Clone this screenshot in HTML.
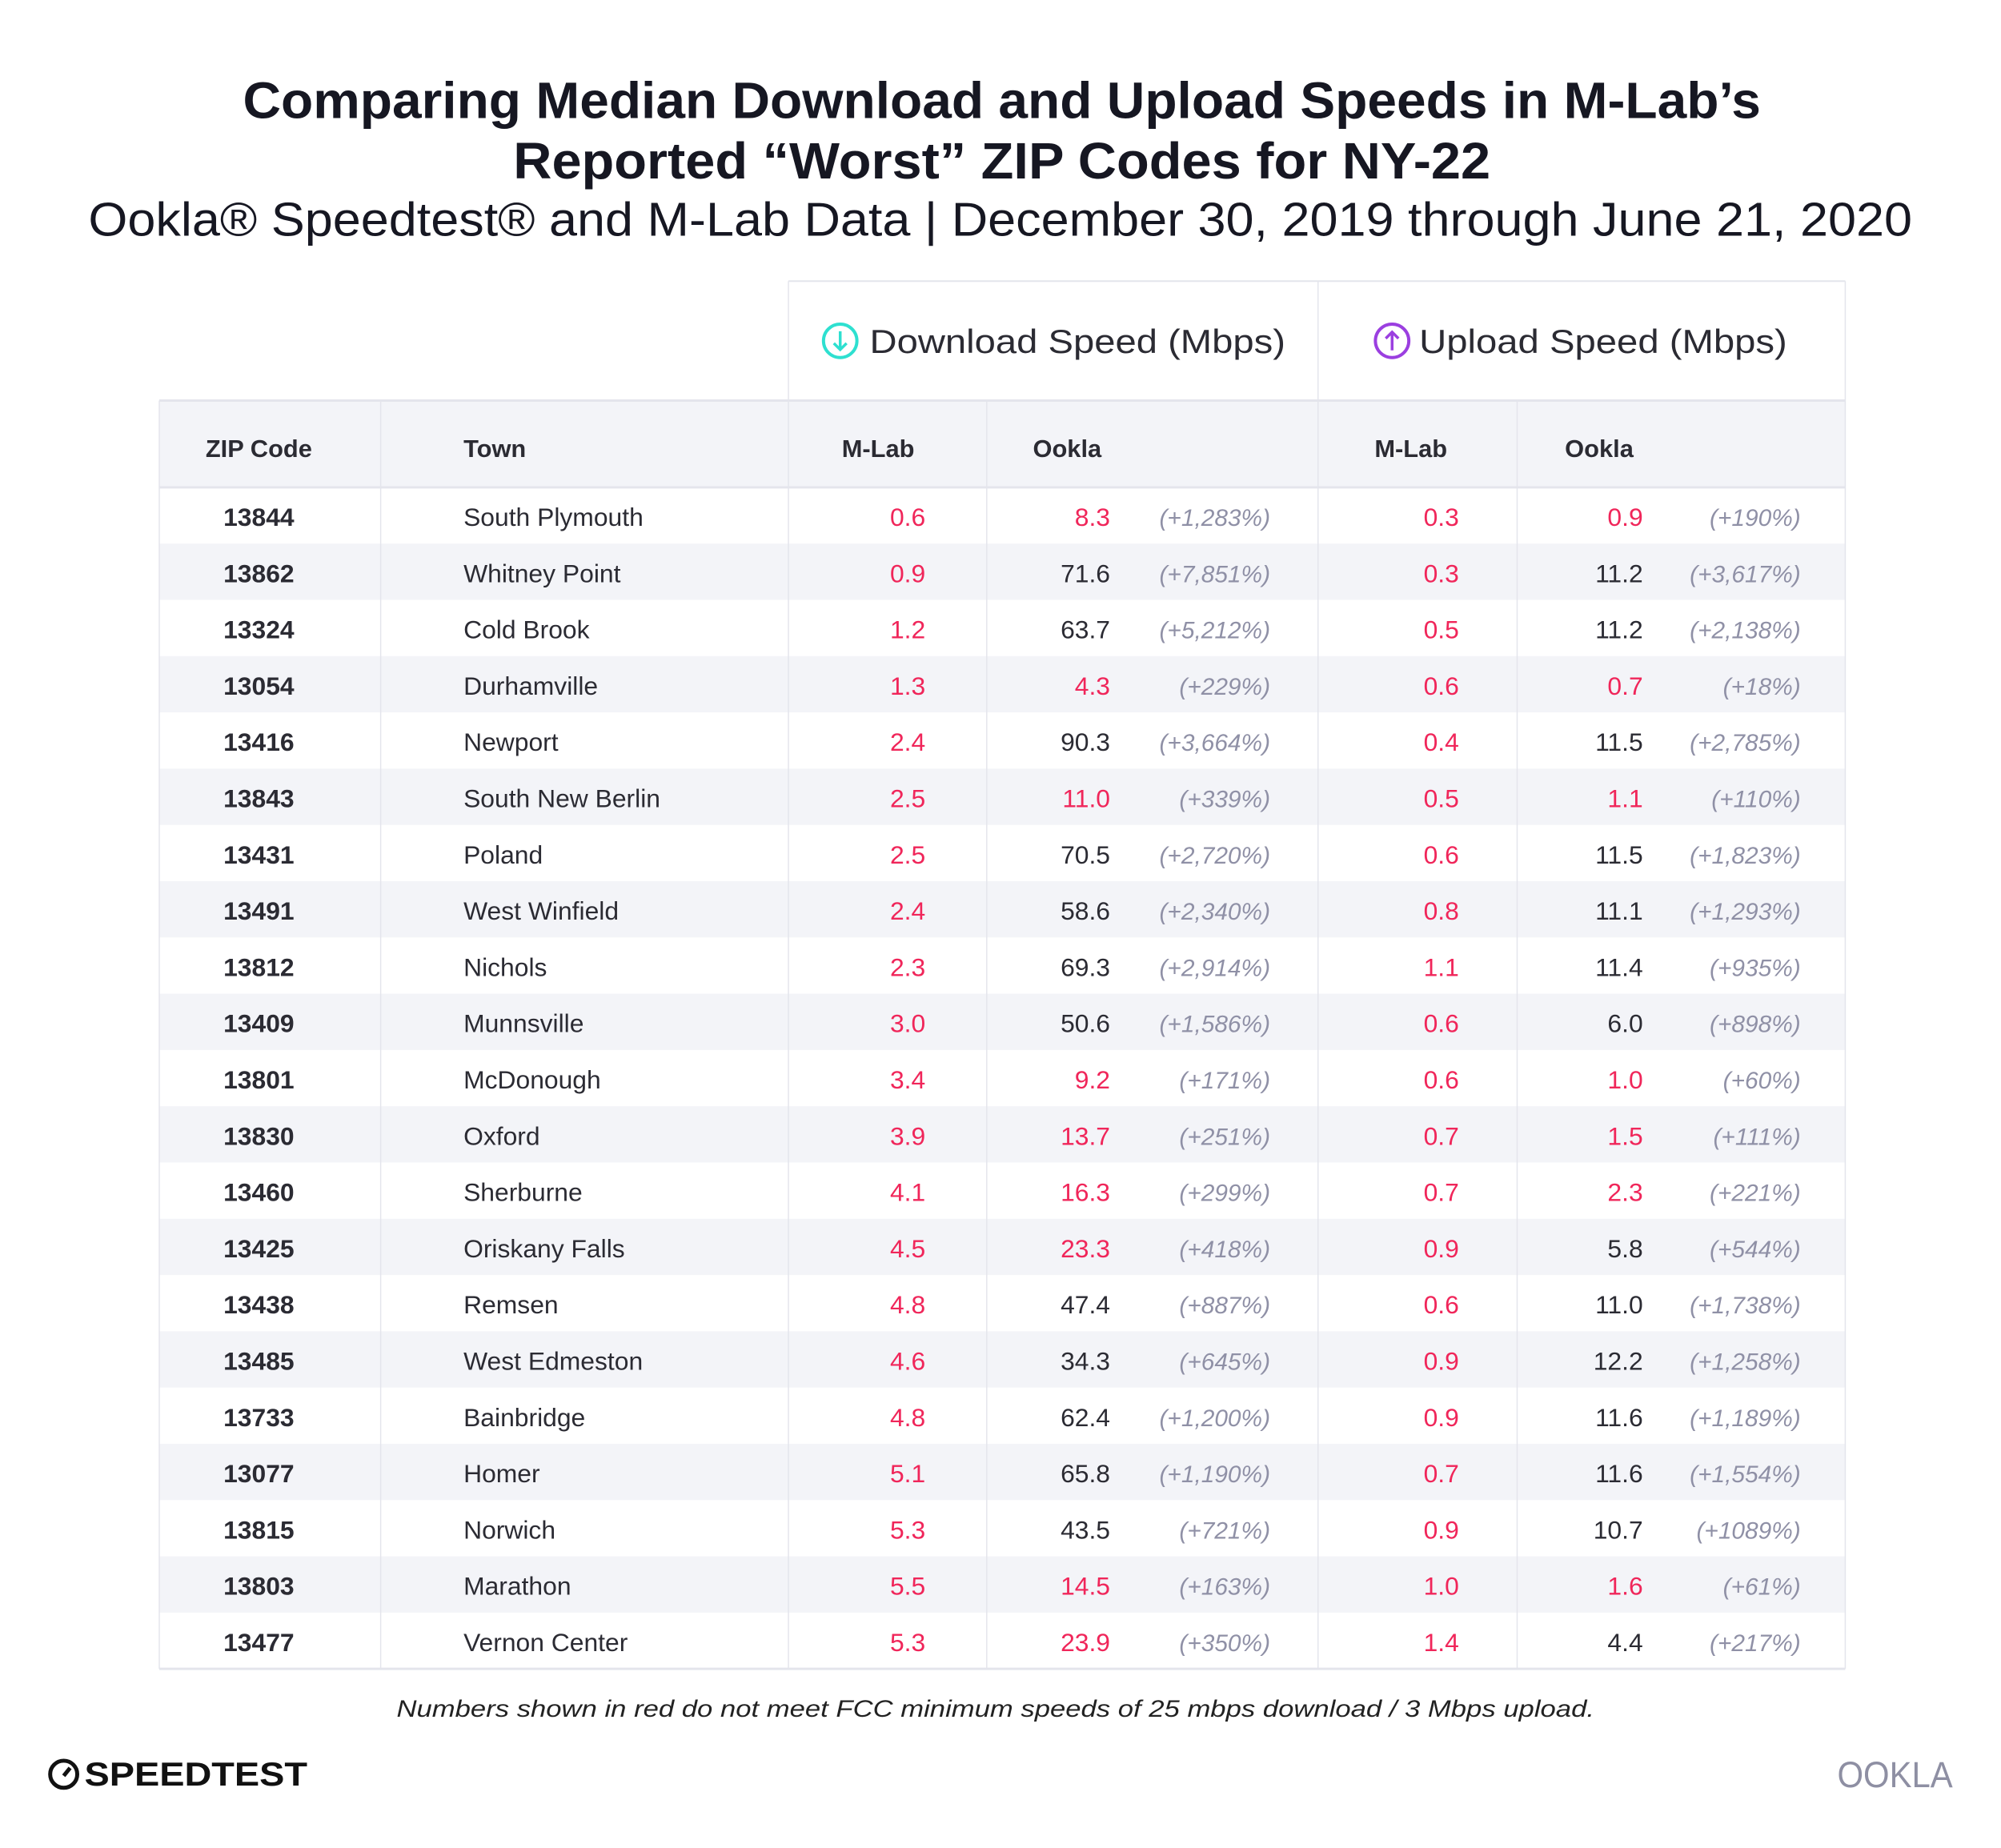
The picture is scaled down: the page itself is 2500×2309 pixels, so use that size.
<!DOCTYPE html>
<html><head><meta charset="utf-8"><style>
html,body{margin:0;padding:0;background:#fff}
svg{display:block;font-family:"Liberation Sans",sans-serif}
</style></head><body>
<svg id="chart" width="2500" height="2309" viewBox="0 0 2500 2309" xmlns="http://www.w3.org/2000/svg">
<rect width="2500" height="2309" fill="#fff"/>
<g transform="scale(0.995)">
<text x="1258" y="148" text-anchor="middle" font-size="64" font-weight="bold" fill="#161722" textLength="1906" lengthAdjust="spacingAndGlyphs">Comparing Median Download and Upload Speeds in M-Lab’s</text>
<text x="1258" y="224" text-anchor="middle" font-size="64" font-weight="bold" fill="#161722" textLength="1227" lengthAdjust="spacingAndGlyphs">Reported “Worst” ZIP Codes for NY-22</text>
<text x="1256" y="296" text-anchor="middle" font-size="60" fill="#161722" textLength="2290" lengthAdjust="spacingAndGlyphs">Ookla® Speedtest® and M-Lab Data | December 30, 2019 through June 21, 2020</text>
<g id="table"></g>
<text x="1250" y="2156" text-anchor="middle" font-size="30" font-style="italic" fill="#222" textLength="1504" lengthAdjust="spacingAndGlyphs">Numbers shown in red do not meet FCC minimum speeds of 25 mbps download / 3 Mbps upload.</text>
<g>
<circle cx="80" cy="2228" r="17" fill="none" stroke="#111" stroke-width="5"/>
<line x1="80" y1="2230" x2="88" y2="2220" stroke="#111" stroke-width="5"/>
<text x="106" y="2242" font-size="42" font-weight="bold" fill="#111" textLength="280" lengthAdjust="spacingAndGlyphs">SPEEDTEST</text>
</g>
<text x="2452" y="2244" text-anchor="end" font-size="46" fill="#8e8fa3" textLength="145" lengthAdjust="spacingAndGlyphs">OOKLA</text>
</g>
</svg>
<script>
const zips=["13844","13862","13324","13054","13416","13843","13431","13491","13812","13409","13801","13830","13460","13425","13438","13485","13733","13077","13815","13803","13477"];
const towns=["South Plymouth","Whitney Point","Cold Brook","Durhamville","Newport","South New Berlin","Poland","West Winfield","Nichols","Munnsville","McDonough","Oxford","Sherburne","Oriskany Falls","Remsen","West Edmeston","Bainbridge","Homer","Norwich","Marathon","Vernon Center"];
const dlMlab=[0.6,0.9,1.2,1.3,2.4,2.5,2.5,2.4,2.3,3.0,3.4,3.9,4.1,4.5,4.8,4.6,4.8,5.1,5.3,5.5,5.3];
const dlOokla=[8.3,71.6,63.7,4.3,90.3,11.0,70.5,58.6,69.3,50.6,9.2,13.7,16.3,23.3,47.4,34.3,62.4,65.8,43.5,14.5,23.9];
const dlPct=["+1,283%","+7,851%","+5,212%","+229%","+3,664%","+339%","+2,720%","+2,340%","+2,914%","+1,586%","+171%","+251%","+299%","+418%","+887%","+645%","+1,200%","+1,190%","+721%","+163%","+350%"];
const ulMlab=[0.3,0.3,0.5,0.6,0.4,0.5,0.6,0.8,1.1,0.6,0.6,0.7,0.7,0.9,0.6,0.9,0.9,0.7,0.9,1.0,1.4];
const ulOokla=[0.9,11.2,11.2,0.7,11.5,1.1,11.5,11.1,11.4,6.0,1.0,1.5,2.3,5.8,11.0,12.2,11.6,11.6,10.7,1.6,4.4];
const ulPct=["+190%","+3,617%","+2,138%","+18%","+2,785%","+110%","+1,823%","+1,293%","+935%","+898%","+60%","+111%","+221%","+544%","+1,738%","+1,258%","+1,189%","+1,554%","+1089%","+61%","+217%"];
const dlThreshold=25, ulThreshold=3;

const NS="http://www.w3.org/2000/svg";
const g=document.getElementById('table');
const RED="#f0265a", DARK="#2b2b33", GREY="#8f90a6", STRIPE="#f3f4f8", LINE="#e4e5ec";
const L=200,R=2317, cols=[478,990,1239,1655,1905];
const headTop=353, hdrTop=503, hdrBot=612, rowH=70.65;
function el(tag,attrs,parent){const e=document.createElementNS(NS,tag);for(const k in attrs)e.setAttribute(k,attrs[k]);(parent||g).appendChild(e);return e;}
function txt(x,y,s,opt,name){const e=el('text',Object.assign({x:x,y:y,'font-size':32,fill:DARK},opt));e.textContent=s;


return e;}
const n=zips.length, bot=hdrBot+n*rowH;
const hb=el('rect',{x:L,y:hdrTop,width:R-L,height:hdrBot-hdrTop,fill:STRIPE});


for(let i=0;i<n;i++){ if(i%2===1){const r=el('rect',{x:L,y:hdrBot+i*rowH,width:R-L,height:rowH,fill:STRIPE});

}}
el('line',{x1:990,y1:headTop,x2:R,y2:headTop,stroke:LINE,'stroke-width':2});
el('line',{x1:990,y1:headTop,x2:990,y2:hdrTop,stroke:LINE,'stroke-width':1.5});
el('line',{x1:1655,y1:headTop,x2:1655,y2:hdrTop,stroke:LINE,'stroke-width':1.5});
el('line',{x1:R,y1:headTop,x2:R,y2:bot,stroke:LINE,'stroke-width':1.5});
el('line',{x1:L,y1:hdrTop,x2:L,y2:bot,stroke:LINE,'stroke-width':1.5});
el('line',{x1:L,y1:hdrTop,x2:R,y2:hdrTop,stroke:LINE,'stroke-width':3});
el('line',{x1:L,y1:hdrBot,x2:R,y2:hdrBot,stroke:LINE,'stroke-width':3});
el('line',{x1:L,y1:bot,x2:R,y2:bot,stroke:LINE,'stroke-width':3});
cols.forEach(c=>el('line',{x1:c,y1:hdrTop,x2:c,y2:bot,stroke:LINE,'stroke-width':1.5}));
const di=el('g',{});


el('circle',{cx:1055,cy:428,r:21,fill:'none',stroke:'#2ee0d0','stroke-width':4},di);
el('path',{d:'M1055 416 V439 M1047 431 L1055 439 L1063 431',fill:'none',stroke:'#2ee0d0','stroke-width':3.5},di);
txt(1092,443,'Download Speed (Mbps)',{'font-size':42,fill:'#2b2b33',textLength:522,lengthAdjust:'spacingAndGlyphs'},'download-group-header');
const ui=el('g',{});


el('circle',{cx:1748,cy:428,r:21,fill:'none',stroke:'#9b3fe0','stroke-width':4},ui);
el('path',{d:'M1748 440 V417 M1740 425 L1748 417 L1756 425',fill:'none',stroke:'#9b3fe0','stroke-width':3.5},ui);
txt(1782,443,'Upload Speed (Mbps)',{'font-size':42,fill:'#2b2b33',textLength:462,lengthAdjust:'spacingAndGlyphs'},'upload-group-header');
const hy=574, hopt={'font-weight':'bold','font-size':31};
txt(325,hy,'ZIP Code',Object.assign({'text-anchor':'middle'},hopt),'zip-code-header');
txt(582,hy,'Town',hopt,'town-header');
txt(1057,hy,'M-Lab',hopt,'download-mlab-header');
txt(1297,hy,'Ookla',hopt,'download-ookla-header');
txt(1726,hy,'M-Lab',hopt,'upload-mlab-header');
txt(1965,hy,'Ookla',hopt,'upload-ookla-header');
for(let i=0;i<n;i++){
  const y=hdrBot+i*rowH+rowH/2+13;
  txt(325,y,zips[i],{'text-anchor':'middle','font-weight':'bold'},'zip-code-cell');
  txt(582,y,towns[i],{},'town-cell');
  txt(1162,y,dlMlab[i].toFixed(1),{'text-anchor':'end',fill:dlMlab[i]<dlThreshold?RED:DARK},'download-mlab-cell');
  txt(1394,y,dlOokla[i].toFixed(1),{'text-anchor':'end',fill:dlOokla[i]<dlThreshold?RED:DARK},'download-ookla-cell');
  txt(1595,y,'('+dlPct[i]+')',{'text-anchor':'end',fill:GREY,'font-style':'italic','font-size':30},'download-pct-cell');
  txt(1832,y,ulMlab[i].toFixed(1),{'text-anchor':'end',fill:ulMlab[i]<ulThreshold?RED:DARK},'upload-mlab-cell');
  txt(2063,y,ulOokla[i].toFixed(1),{'text-anchor':'end',fill:ulOokla[i]<ulThreshold?RED:DARK},'upload-ookla-cell');
  txt(2261,y,'('+ulPct[i]+')',{'text-anchor':'end',fill:GREY,'font-style':'italic','font-size':30},'upload-pct-cell');
}
</script>
</body></html>
